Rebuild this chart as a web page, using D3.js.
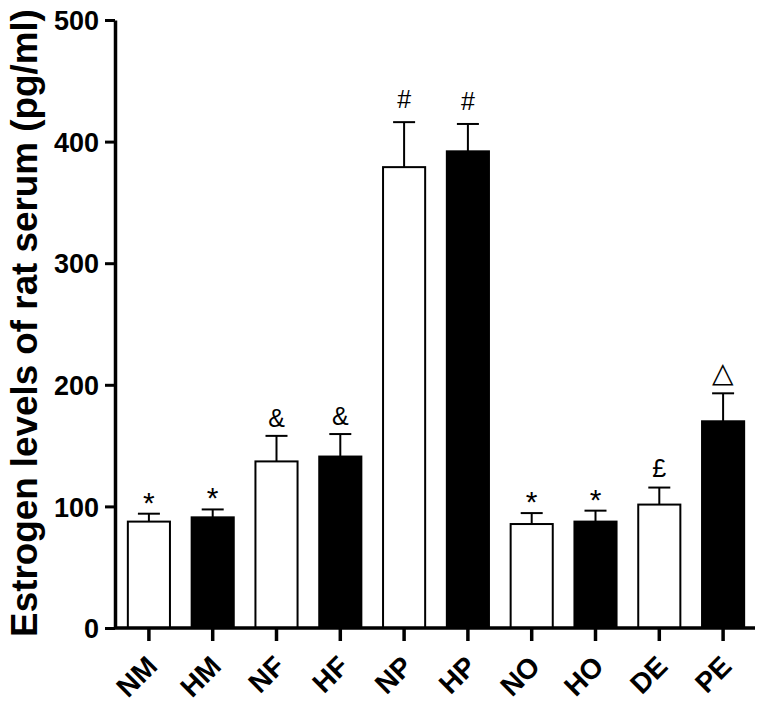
<!DOCTYPE html>
<html><head><meta charset="utf-8">
<script src="https://cdn.jsdelivr.net/npm/d3@7"></script>
<style>body{margin:0;background:#fff}svg{display:block}</style>
</head><body>
<svg id="chart" width="759" height="705"></svg>
<script>
const categories = ["NM","HM","NF","HF","NP","HP","NO","HO","DE","PE"];
const means = [87.5, 91, 137, 141, 379, 392, 85.5, 87.5, 101.5, 170];
const sems  = [6.5, 6.5, 21, 18.5, 37, 22.5, 9, 9, 14, 23];
const fills = ["white","black","white","black","white","black","white","black","white","black"];
const marks = ["*","*","&","&","#","#","*","*","£","△"];
const yTicks = [0,100,200,300,400,500];

const FONT = "Liberation Sans, Arial, Helvetica, sans-serif";
const svg = d3.select("#chart");
const x = d3.scaleBand().domain(categories).range([117,755]).paddingInner(0.34).paddingOuter(0.17);
const y = d3.scaleLinear().domain([0,500]).range([628,20]);
const cx = d => x(d) + x.bandwidth()/2;

// bars
svg.selectAll("rect.bar").data(categories).join("rect")
  .attr("x", d => x(d)).attr("width", x.bandwidth())
  .attr("y", (d,i) => y(means[i])).attr("height", (d,i) => y(0) - y(means[i]))
  .attr("fill", (d,i) => fills[i]).attr("stroke","black").attr("stroke-width",2);

// error bars
const cap = 22;
svg.selectAll("line.err").data(categories).join("line")
  .attr("x1", cx).attr("x2", cx)
  .attr("y1", (d,i) => y(means[i])).attr("y2", (d,i) => y(means[i]+sems[i]))
  .attr("stroke","black").attr("stroke-width",2);
svg.selectAll("line.cap").data(categories).join("line")
  .attr("x1", d => cx(d)-cap/2).attr("x2", d => cx(d)+cap/2)
  .attr("y1", (d,i) => y(means[i]+sems[i])).attr("y2", (d,i) => y(means[i]+sems[i]))
  .attr("stroke","black").attr("stroke-width",2);

// annotation marks
const markGap = m => m === "*" ? 1 : (m === "&" ? 9 : (m === "#" ? 14 : 11));
const markSize = m => m === "*" ? 30 : (m === "△" ? 28 : 25);
svg.selectAll("text.mark").data(categories).join("text")
  .attr("x", cx)
  .attr("y", (d,i) => y(means[i]+sems[i]) - markGap(marks[i]))
  .attr("text-anchor","middle")
  .attr("font-family", FONT)
  .attr("font-size", (d,i) => markSize(marks[i]))
  .text((d,i) => marks[i]);

// y axis
const yAxis = svg.append("g").attr("transform","translate(115,0)")
  .call(d3.axisLeft(y).tickValues(yTicks).tickSize(10).tickPadding(6).tickSizeOuter(0));
yAxis.select(".domain").attr("stroke","black").attr("stroke-width",3.5);
yAxis.selectAll(".tick line").attr("stroke","black").attr("stroke-width",3);
yAxis.selectAll(".tick text").attr("font-family", FONT)
  .attr("font-weight","bold").attr("font-size",27).attr("fill","black").attr("dy","0.36em");

// x axis
const xAxis = svg.append("g").attr("transform","translate(0,628)")
  .call(d3.axisBottom(x).tickSize(13).tickSizeOuter(0).tickFormat(""));
xAxis.select(".domain").attr("d","M115,0H755").attr("stroke","black").attr("stroke-width",3.5);
xAxis.selectAll(".tick line").attr("stroke","black").attr("stroke-width",3.5);
xAxis.selectAll(".tick").append("text")
  .attr("text-anchor","end")
  .attr("font-family", FONT)
  .attr("font-weight","bold").attr("font-size",28).attr("fill","black")
  .attr("transform","translate(10,40) rotate(-45)")
  .text(d => d);

// y title, sized to span the reference length
const title = svg.append("text")
  .attr("text-anchor","middle")
  .attr("font-family", FONT)
  .attr("font-weight","bold").attr("font-size",34)
  .text("Estrogen levels of rat serum (pg/ml)");
const len = title.node().getComputedTextLength();
const fs = 34 * 628 / len;
title.attr("font-size", fs).attr("transform", `translate(${10 + fs*0.73},323) rotate(-90)`);
</script>
</body></html>
